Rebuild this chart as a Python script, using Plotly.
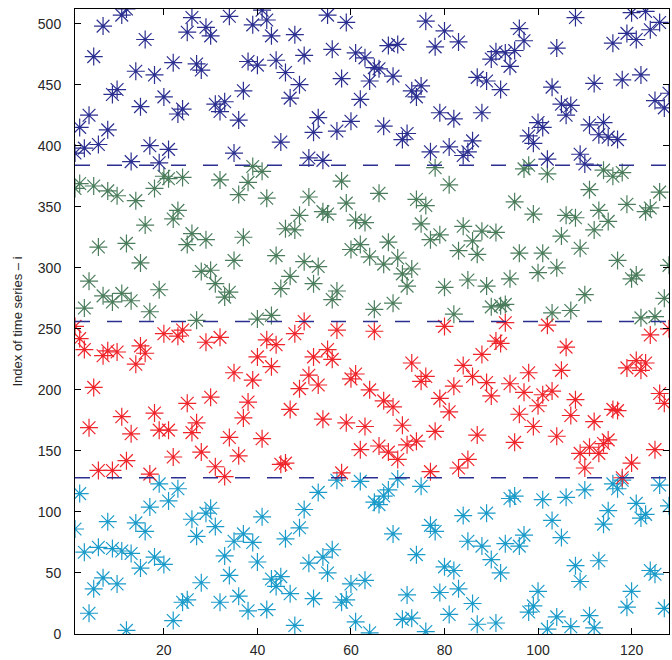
import plotly.graph_objects as go

# Time index (x) shared by all four clusters
t = list(range(1, 129))

# Series index i at each time step, one list per cluster
cluster_1 = [  # i in 0..128
    86, 115, 67, 17, 37, 71, 46, 92, 70, 41, 68, 3, 66, 91, 54, 84, 104, 63, 123, 57,
    109, 11, 119, 26, 28, 94, 80, 42, 99, 103, 88, 26, 64, 48, 76, 31, 82, 19, 75, 59,
    96, 20, 45, 39, 47, 78, 33, 7, 87, 102, 58, 29, 116, 63, 50, 69, 126, 26, 28, 41,
    10, 125, 44, 1, 108, 106, 113, 118, 82, 127, 12, 32, 13, 65, 121, 2, 89, 84, 34, 55,
    16, 52, 37, 97, 76, 25, 8, 72, 99, 61, 9, 50, 74, 111, 113, 72, 81, 18, 23, 35,
    110, 4, 93, 14, 79, 112, 6, 56, 43, 118, 15, 5, 60, 90, 101, 123, 119, 126, 22, 35,
    107, 95, 98, 52, 49, 122, 21, 105,
]
cluster_2 = [  # i in 128..256
    252, 242, 233, 169, 202, 134, 228, 232, 134, 231, 178, 142, 164, 221, 236, 230, 131, 181, 167, 246,
    167, 145, 244, 249, 189, 165, 173, 149, 239, 194, 137, 243, 129, 161, 214, 146, 177, 190, 208, 227,
    160, 241, 219, 237, 139, 140, 184, 246, 201, 256, 212, 227, 204, 176, 233, 225, 249, 132, 173, 209,
    213, 151, 170, 200, 248, 154, 191, 149, 186, 143, 171, 155, 222, 158, 207, 211, 133, 166, 193, 252,
    182, 203, 136, 220, 143, 211, 163, 229, 206, 195, 240, 238, 255, 205, 157, 180, 198, 214, 170, 187,
    196, 253, 199, 162, 216, 235, 179, 192, 148, 136, 153, 174, 148, 156, 159, 184, 183, 128, 218, 140,
    224, 216, 222, 245, 151, 197, 189, 250,
]
cluster_3 = [  # i in 256..384
    365, 369, 267, 289, 367, 317, 277, 363, 272, 359, 279, 320, 273, 355, 304, 335, 264, 365, 282, 375,
    373, 340, 347, 374, 319, 328, 257, 297, 323, 298, 287, 372, 276, 280, 306, 360, 325, 370, 383, 258,
    379, 357, 261, 310, 283, 332, 293, 331, 343, 305, 358, 287, 301, 346, 344, 274, 281, 371, 353, 315,
    339, 319, 337, 309, 266, 361, 303, 321, 271, 308, 295, 285, 299, 356, 336, 351, 323, 382, 327, 284,
    368, 262, 314, 334, 290, 322, 311, 330, 285, 268, 329, 269, 270, 291, 354, 312, 381, 384, 344, 296,
    312, 377, 263, 300, 326, 343, 265, 341, 316, 278, 364, 331, 347, 380, 338, 375, 306, 378, 352, 291,
    294, 259, 346, 349, 260, 362, 275, 302,
]
cluster_4 = [  # i in 384..512
    394, 415, 398, 425, 473, 401, 498, 413, 442, 446, 507, 512, 387, 461, 432, 487, 400, 458, 386, 440,
    397, 468, 426, 430, 493, 505, 467, 462, 497, 490, 434, 428, 436, 506, 394, 421, 445, 469, 499, 466,
    511, 503, 490, 470, 403, 460, 439, 491, 450, 474, 390, 411, 423, 388, 507, 479, 412, 455, 501, 420,
    476, 438, 472, 453, 464, 463, 416, 482, 457, 483, 405, 410, 445, 440, 449, 502, 395, 481, 427, 494,
    399, 422, 485, 392, 395, 404, 456, 427, 453, 471, 477, 446, 476, 465, 478, 496, 486, 408, 402, 419,
    415, 389, 448, 480, 434, 425, 433, 505, 393, 385, 417, 451, 409, 419, 407, 484, 405, 454, 492, 509,
    487, 458, 510, 495, 437, 501, 431, 443,
]

# Cluster boundaries drawn as dashed lines
boundaries = [128, 256, 384]

colors = {
    "c1": "#1b9bc9",
    "c2": "#ef252c",
    "c3": "#4b7d5c",
    "c4": "#2b2f8f",
}
line_color = "#2b2f8f"

fig = go.Figure()

for name, ys in [("c1", cluster_1), ("c2", cluster_2), ("c3", cluster_3), ("c4", cluster_4)]:
    fig.add_trace(go.Scatter(
        x=t, y=ys, mode="markers",
        marker=dict(symbol="asterisk-open", size=15, color=colors[name],
                    line=dict(color=colors[name], width=1.2)),
        showlegend=False, hoverinfo="skip",
    ))

for b in boundaries:
    fig.add_trace(go.Scatter(
        x=[t[0], t[-1]], y=[b, b], mode="lines",
        line=dict(color=line_color, width=1.3, dash="15px,17px"),
        showlegend=False, hoverinfo="skip",
    ))

axis_common = dict(
    showline=True, linecolor="black", linewidth=1,
    mirror="ticks", ticks="inside", ticklen=6, tickwidth=1, tickcolor="black",
    showgrid=False, zeroline=False,
    tickfont=dict(family="Liberation Sans, Arial, sans-serif", size=14, color="#262626"),
)

fig.update_xaxes(range=[1, 128], tickvals=[20, 40, 60, 80, 100, 120],
                 ticklabelstandoff=3, **axis_common)
fig.update_yaxes(range=[0, 512], tickvals=[0, 50, 100, 150, 200, 250, 300, 350, 400, 450, 500],
                 ticklabelstandoff=10,
                 title=dict(text="Index of time series \u2013 i", standoff=12,
                            font=dict(family="Liberation Sans, Arial, sans-serif", size=13, color="#262626")),
                 **axis_common)

fig.update_layout(
    width=672, height=660,
    margin=dict(l=75, r=3, t=9, b=26),
    plot_bgcolor="white", paper_bgcolor="white",
)

fig.write_html("out.html")
